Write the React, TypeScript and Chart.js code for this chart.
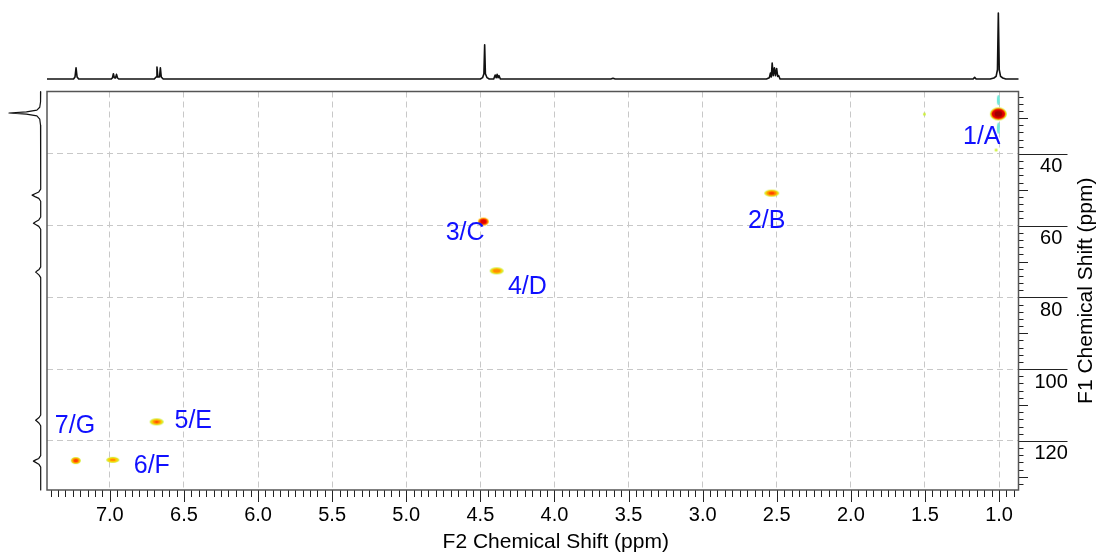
import React, { useEffect, useRef } from "react";
import { Chart, registerables } from "chart.js";

Chart.register(...registerables);

const FONT = '"Liberation Sans", Arial, Helvetica, sans-serif';

// ---------- axes ----------
const f2Range = [0.869, 7.424];
const f1Range = [22.6, 133.7];
const f2Step = 0.5;
const f1Step = 20;
const f2MinorStep = 0.05;
const f1MinorStep = 2;
const f2Title = "F2 Chemical Shift (ppm)";
const f1Title = "F1 Chemical Shift (ppm)";

// ---------- 2D cross peaks ----------
const peakLabels = ["1/A", "2/B", "3/C", "4/D", "5/E", "6/F", "7/G"];
const peakF2 = [1.005, 2.534, 4.48, 4.39, 6.684, 6.98, 7.23];
const peakF1 = [28.85, 50.95, 58.87, 72.6, 114.7, 125.3, 125.5];
const labelF2 = [1.117, 2.568, 4.603, 4.183, 6.437, 6.717, 7.235];
const labelF1 = [35.18, 58.87, 62.1, 77.0, 114.6, 127.0, 115.8];

// weak artefacts (t1 noise etc.)
const noiseF2 = [1.005, 1.005, 1.02, 1.504];
const noiseF1 = [25.0, 32.8, 38.9, 28.9];

// ---------- 1H projection (top) ----------
const topF2 = [
  7.424, 7.245, 7.235, 7.228, 7.221, 7.21,
  6.99, 6.982, 6.976, 6.97, 6.962, 6.955, 6.948, 6.94,
  6.7, 6.688, 6.682, 6.676, 6.665, 6.659, 6.653, 6.64,
  4.5, 4.485, 4.476, 4.471, 4.466, 4.455, 4.44,
  4.41, 4.4, 4.393, 4.387, 4.38, 4.374, 4.365,
  3.62, 3.605, 3.59,
  2.57, 2.55, 2.543, 2.537, 2.531, 2.524, 2.516, 2.509, 2.501, 2.494, 2.487, 2.478,
  1.175, 1.165, 1.155,
  1.06, 1.035, 1.02, 1.011, 1.005, 0.999, 0.99, 0.975, 0.955,
  0.869,
];
const topInt = [
  0, 0, 3, 17, 3, 0,
  0, 2, 8, 2, 1.5, 7, 1.5, 0,
  0, 3, 18, 3, 3, 17, 3, 0,
  0, 2, 8, 52, 8, 2, 0,
  0, 6, 2, 7, 2, 5, 0,
  0, 1.2, 0,
  0, 2, 9, 3, 24, 5, 17, 5, 16, 4, 5, 0,
  0, 2.5, 0,
  0, 1.5, 4, 14, 100, 14, 4, 1.5, 0,
  0,
];

// ---------- 13C projection (left) ----------
const leftF1 = [
  22.6, 25.5, 27.0, 27.8, 28.3, 28.6, 28.9, 29.4, 30.3, 32.0, 34.0,
  49.8, 50.6, 51.1, 51.5, 51.9, 52.4, 53.2,
  57.6, 58.4, 58.9, 59.3, 59.7, 60.2, 61.0,
  71.5, 72.2, 72.6, 72.95, 73.3, 73.8, 74.5,
  112.8, 113.5, 113.9, 114.25, 114.6, 115.1, 115.8,
  124.1, 124.9, 125.3, 125.65, 126.0, 126.5, 127.3,
  133.7,
];
const leftInt = [
  0, 0.5, 3, 12, 45, 100, 45, 12, 3, 0.5, 0,
  0, 6, 18, 27, 18, 6, 0,
  0, 6, 16, 23, 16, 6, 0,
  0, 5, 11, 16, 11, 5, 0,
  0, 5, 11, 16, 11, 5, 0,
  0, 6, 16, 23, 16, 6, 0,
  0,
];

// ---------- styles ----------
const COL = {
  lime: "#cdf03c",
  yellow: "#ffd200",
  orange: "#ff8c00",
  redOrange: "#ff3c00",
  red: "#e00000",
  dark: "#a00000",
  cyan: "#6ee8d8",
};
type Ring = [string, number];
const peakStyles: { w: number; h: number; rings: Ring[] }[] = [
  { w: 17, h: 13, rings: [[COL.lime, 1], [COL.yellow, 0.92], [COL.orange, 0.85], [COL.red, 0.78], [COL.dark, 0.45]] },
  { w: 15, h: 7, rings: [[COL.lime, 1], [COL.yellow, 0.85], [COL.orange, 0.66], [COL.redOrange, 0.38]] },
  { w: 11, h: 8, rings: [[COL.yellow, 1], [COL.orange, 0.88], [COL.redOrange, 0.76], [COL.red, 0.55]] },
  { w: 14, h: 7, rings: [[COL.lime, 1], [COL.yellow, 0.8], [COL.orange, 0.55]] },
  { w: 14, h: 7, rings: [[COL.lime, 1], [COL.yellow, 0.8], [COL.orange, 0.55], [COL.redOrange, 0.25]] },
  { w: 13, h: 6, rings: [[COL.lime, 1], [COL.yellow, 0.78], [COL.orange, 0.45]] },
  { w: 10, h: 7, rings: [[COL.lime, 1], [COL.yellow, 0.85], [COL.orange, 0.7], [COL.redOrange, 0.45]] },
];
const noiseStyles: { w: number; h: number; rings: Ring[] }[] = [
  { w: 3, h: 10, rings: [[COL.cyan, 1]] },
  { w: 3, h: 11, rings: [[COL.cyan, 1]] },
  { w: 3, h: 3, rings: [[COL.lime, 1]] },
  { w: 3, h: 3, rings: [[COL.lime, 1]] },
];

function makePeakImage(s: { w: number; h: number; rings: Ring[] }): HTMLCanvasElement {
  const c = document.createElement("canvas");
  c.width = Math.ceil(s.w) + 2;
  c.height = Math.ceil(s.h) + 2;
  const g = c.getContext("2d")!;
  for (const [col, f] of s.rings) {
    g.beginPath();
    g.ellipse(c.width / 2, c.height / 2, (s.w / 2) * f, (s.h / 2) * f, 0, 0, Math.PI * 2);
    g.fillStyle = col;
    g.fill();
  }
  return c;
}

const overlayPlugin = {
  id: "nmrOverlay",
  afterDraw(chart: any) {
    const { ctx, chartArea: a, scales } = chart;
    const xs = scales.x;
    const ys = scales.y;
    ctx.save();
    // tick marks
    ctx.strokeStyle = "#222";
    ctx.lineWidth = 1;
    ctx.beginPath();
    const i0 = Math.ceil(f2Range[0] / f2MinorStep - 1e-6);
    const i1 = Math.floor(f2Range[1] / f2MinorStep + 1e-6);
    for (let i = i0; i <= i1; i++) {
      const px = Math.round(xs.getPixelForValue(i * f2MinorStep)) + 0.5;
      const len = i % Math.round(f2Step / f2MinorStep) === 0 ? 12 : 7;
      ctx.moveTo(px, a.bottom);
      ctx.lineTo(px, a.bottom + len);
    }
    const j0 = Math.ceil(f1Range[0] / f1MinorStep);
    const j1 = Math.floor(f1Range[1] / f1MinorStep);
    for (let j = j0; j <= j1; j++) {
      const v = j * f1MinorStep;
      const py = Math.round(ys.getPixelForValue(v)) + 0.5;
      const len = v % f1Step === 0 ? 49 : v % 10 === 0 ? 9.5 : 5;
      ctx.moveTo(a.right, py);
      ctx.lineTo(a.right + len, py);
    }
    ctx.stroke();
    // frame
    ctx.strokeStyle = "#555";
    ctx.lineWidth = 1.5;
    ctx.strokeRect(a.left, a.top, a.right - a.left, a.bottom - a.top);
    // peak labels
    ctx.fillStyle = "#1010ff";
    ctx.font = `25px ${FONT}`;
    ctx.textAlign = "center";
    ctx.textBaseline = "middle";
    peakLabels.forEach((t, i) => {
      ctx.fillText(t, xs.getPixelForValue(labelF2[i]), ys.getPixelForValue(labelF1[i]));
    });
    // axis titles
    ctx.fillStyle = "#000";
    ctx.font = `21px ${FONT}`;
    ctx.fillText(f2Title, (a.left + a.right) / 2 + 23, a.bottom + 52);
    ctx.translate(a.right + 67.5, (a.top + a.bottom) / 2);
    ctx.rotate(-Math.PI / 2);
    ctx.fillText(f1Title, 0, 0);
    ctx.restore();
  },
};

export default function App() {
  const mainRef = useRef<HTMLCanvasElement>(null);
  const topRef = useRef<HTMLCanvasElement>(null);
  const leftRef = useRef<HTMLCanvasElement>(null);

  useEffect(() => {
    const charts: Chart[] = [];
    const peakImgs = peakStyles.map(makePeakImage);
    const noiseImgs = noiseStyles.map(makePeakImage);

    if (mainRef.current) {
      charts.push(
        new Chart(mainRef.current, {
          type: "scatter",
          data: {
            datasets: [
              {
                data: noiseF2.map((x, i) => ({ x, y: noiseF1[i] })),
                pointStyle: noiseImgs as any,
                pointRadius: 4,
                backgroundColor: "transparent",
                borderColor: "transparent",
              },
              {
                data: peakF2.map((x, i) => ({ x, y: peakF1[i] })),
                pointStyle: peakImgs as any,
                pointRadius: 6,
                backgroundColor: "transparent",
                borderColor: "transparent",
              },
            ],
          },
          options: {
            responsive: false,
            animation: false,
            events: [],
            layout: { padding: { left: 47, top: 91.5, right: 0, bottom: 0 } },
            plugins: { legend: { display: false }, tooltip: { enabled: false } },
            scales: {
              x: {
                type: "linear",
                position: "bottom",
                min: f2Range[0],
                max: f2Range[1],
                reverse: true,
                ticks: {
                  stepSize: f2Step,
                  includeBounds: false,
                  autoSkip: false,
                  maxRotation: 0,
                  padding: 13,
                  color: "#000",
                  font: { size: 20, family: FONT },
                  callback: (v: any) => Number(v).toFixed(1),
                },
                grid: { color: "#c8c8c8", lineWidth: 1, drawTicks: false },
                border: { display: false, dash: [6, 4] },
                afterFit: (s: any) => {
                  s.height = 64;
                },
              },
              y: {
                type: "linear",
                position: "right",
                min: f1Range[0],
                max: f1Range[1],
                reverse: true,
                ticks: {
                  stepSize: f1Step,
                  includeBounds: false,
                  autoSkip: false,
                  padding: 16,
                  crossAlign: "center",
                  labelOffset: 13,
                  color: "#000",
                  font: { size: 20, family: FONT },
                  callback: (v: any) => String(Math.round(Number(v))),
                },
                grid: { color: "#c8c8c8", lineWidth: 1, drawTicks: false },
                border: { display: false, dash: [6, 4] },
                afterFit: (s: any) => {
                  s.width = 79.5;
                },
              },
            },
          },
          plugins: [overlayPlugin],
        } as any)
      );
    }

    if (topRef.current) {
      charts.push(
        new Chart(topRef.current, {
          type: "scatter",
          data: {
            datasets: [
              {
                data: topF2.map((x, i) => ({ x, y: topInt[i] })),
                showLine: true,
                pointRadius: 0,
                borderColor: "#111",
                borderWidth: 1.6,
                borderJoinStyle: "round",
                tension: 0,
                clip: false,
              },
            ],
          },
          options: {
            responsive: false,
            animation: false,
            events: [],
            layout: { padding: { left: 47, right: 79.5, top: 13, bottom: 13 } },
            plugins: { legend: { display: false }, tooltip: { enabled: false } },
            scales: {
              x: { type: "linear", display: false, min: f2Range[0], max: f2Range[1], reverse: true },
              y: { type: "linear", display: false, min: 0, max: 100 },
            },
          },
        } as any)
      );
    }

    if (leftRef.current) {
      charts.push(
        new Chart(leftRef.current, {
          type: "scatter",
          data: {
            datasets: [
              {
                data: leftF1.map((y, i) => ({ x: leftInt[i], y })),
                showLine: true,
                pointRadius: 0,
                borderColor: "#111",
                borderWidth: 1.2,
                borderJoinStyle: "round",
                tension: 0,
                clip: false,
              },
            ],
          },
          options: {
            responsive: false,
            animation: false,
            events: [],
            layout: { padding: { left: 9, right: 6.3, top: 91.5, bottom: 64 } },
            plugins: { legend: { display: false }, tooltip: { enabled: false } },
            scales: {
              x: { type: "linear", display: false, min: 0, max: 100, reverse: true },
              y: { type: "linear", display: false, min: f1Range[0], max: f1Range[1], reverse: true },
            },
          },
        } as any)
      );
    }

    return () => charts.forEach((c) => c.destroy());
  }, []);

  return (
    <div style={{ position: "fixed", left: 0, top: 0, width: 1098, height: 554, background: "#fff" }}>
      <canvas ref={mainRef} width={1098} height={554} style={{ position: "absolute", left: 0, top: 0 }} />
      <canvas ref={topRef} width={1098} height={92} style={{ position: "absolute", left: 0, top: 0 }} />
      <canvas ref={leftRef} width={47} height={554} style={{ position: "absolute", left: 0, top: 0 }} />
    </div>
  );
}
